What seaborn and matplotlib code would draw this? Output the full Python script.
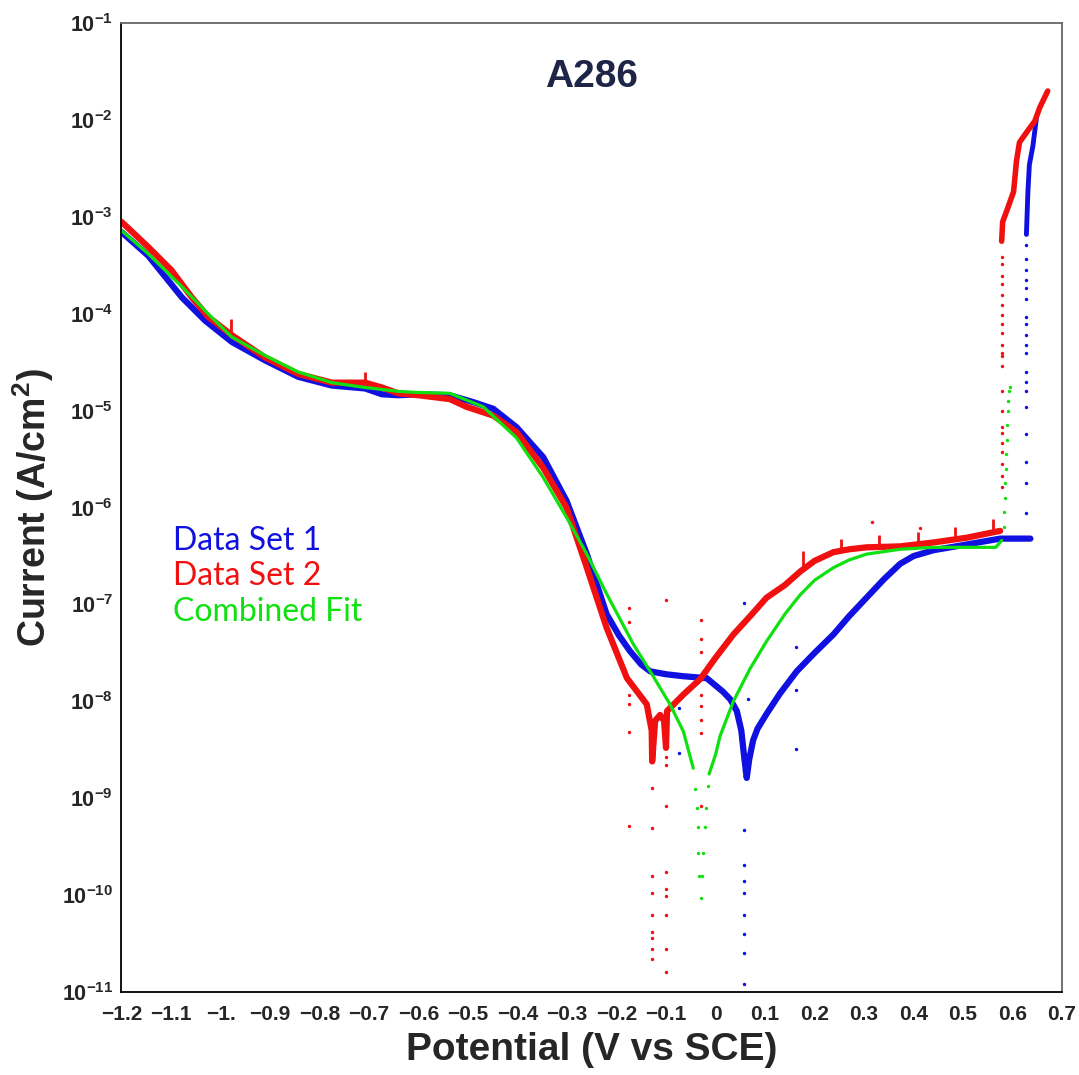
import numpy as np
import pandas as pd
import matplotlib
matplotlib.use("Agg")
import matplotlib.pyplot as plt
import seaborn as sns

# potential (V vs SCE) and log10 current (A/cm2)
ds1_v = [-1.2, -1.146, -1.078, -1.031, -0.977, -0.910, -0.843, -0.775, -0.708, -0.674, -0.641, -0.6,
         -0.537, -0.49, -0.449, -0.402, -0.348, -0.301, -0.260, -0.220, -0.195, -0.173, -0.15, -0.132,
         -0.1, -0.066, -0.018, 0.015, 0.03, 0.043, 0.052, 0.058, 0.063, 0.068, 0.076, 0.085, 0.103,
         0.13, 0.164, 0.2, 0.238, 0.27, 0.305, 0.34, 0.373, 0.40, 0.44, 0.508, 0.575, 0.636]
ds1_log = [-3.155, -3.40, -3.83, -4.07, -4.29, -4.48, -4.65, -4.74, -4.77, -4.83, -4.84, -4.83,
           -4.84, -4.91, -4.98, -5.17, -5.48, -5.93, -6.48, -7.10, -7.32, -7.48, -7.62, -7.69,
           -7.72, -7.74, -7.76, -7.90, -7.98, -8.10, -8.30, -8.58, -8.79, -8.60, -8.40, -8.28, -8.13,
           -7.92, -7.69, -7.50, -7.31, -7.12, -6.93, -6.74, -6.58, -6.50, -6.44, -6.38, -6.32, -6.32]
ds1_top_v = [0.628, 0.631, 0.634, 0.641, 0.648]
ds1_top_log = [-3.18, -2.74, -2.46, -2.27, -1.99]
ds1_dots_v = [0.627] * 19 + [0.058] * 10 + [0.162, 0.162, 0.162, 0.065, -0.073, -0.073]
ds1_dots_log = [-6.06, -5.75, -5.53, -5.24, -4.96, -4.80, -4.70, -4.60, -4.40, -4.32, -4.22, -4.10,
                -4.03, -3.85, -3.73, -3.65, -3.55, -3.43, -3.29,
                -6.98, -8.72, -9.33, -9.69, -9.85, -9.98, -10.2, -10.4, -10.6, -10.92,
                -7.44, -7.88, -8.49, -7.98, -8.07, -8.53]

ds2_v = [-1.2, -1.146, -1.099, -1.058, -1.025, -0.977, -0.910, -0.843, -0.775, -0.708, -0.674, -0.641,
         -0.6, -0.537, -0.503, -0.449, -0.402, -0.348, -0.301, -0.260, -0.220, -0.179, -0.139, -0.129,
         -0.128, -0.122, -0.112, -0.104, -0.100, -0.098, -0.065, -0.031, 0.0, 0.036, 0.07, 0.103, 0.14,
         0.171, 0.2, 0.238, 0.27, 0.305, 0.373, 0.44, 0.508, 0.575]
ds2_log = [-3.05, -3.31, -3.55, -3.83, -4.03, -4.22, -4.45, -4.62, -4.71, -4.71, -4.76, -4.82,
           -4.84, -4.88, -4.96, -5.05, -5.22, -5.59, -6.0, -6.62, -7.24, -7.76, -8.03, -8.30,
           -8.62, -8.20, -8.14, -8.20, -8.48, -8.10, -7.93, -7.77, -7.55, -7.31, -7.12, -6.93, -6.80,
           -6.66, -6.55, -6.46, -6.43, -6.41, -6.40, -6.36, -6.31, -6.24]
ds2_top_v = [0.578, 0.580, 0.588, 0.602, 0.608, 0.614, 0.632, 0.645, 0.655, 0.671]
ds2_top_log = [-3.25, -3.05, -2.94, -2.74, -2.42, -2.23, -2.10, -2.01, -1.87, -1.70]
ds2_spike_v = [-0.979, -0.708, 0.177, 0.254, 0.331, 0.408, 0.484, 0.560]
ds2_spike_base = [-4.22, -4.71, -6.64, -6.46, -6.42, -6.40, -6.34, -6.27]
ds2_spike_top = [-4.05, -4.60, -6.45, -6.32, -6.28, -6.25, -6.20, -6.12]
ds2_dots_v = [0.579] * 22 + [-0.175] * 6 + [-0.128] * 9 + [-0.100] * 10 + [-0.029] * 8 + [0.317, 0.413]
ds2_dots_log = [-5.79, -5.67, -5.55, -5.43, -5.33, -5.23, -5.17, -5.00, -4.80, -4.54, -4.44, -4.40,
                -4.32, -4.20, -4.10, -4.01, -3.91, -3.81, -3.69, -3.61, -3.49, -3.41,
                -7.04, -7.18, -7.93, -8.03, -8.32, -9.29,
                -8.89, -9.31, -9.80, -9.98, -10.20, -10.38, -10.44, -10.56, -10.66,
                -6.95, -8.57, -8.66, -9.08, -9.76, -9.94, -10.01, -10.20, -10.56, -10.79,
                -7.16, -7.36, -7.49, -7.93, -8.05, -8.19, -8.33, -9.08,
                -6.15, -6.21]

fit_left_v = [-1.2, -1.146, -1.078, -1.025, -0.977, -0.910, -0.843, -0.775, -0.708, -0.641, -0.607,
              -0.537, -0.469, -0.402, -0.348, -0.301, -0.260, -0.220, -0.166, -0.132, -0.092, -0.065,
              -0.045]
fit_left_log = [-3.14, -3.38, -3.72, -4.0, -4.24, -4.43, -4.60, -4.71, -4.76, -4.80, -4.81,
                -4.82, -4.96, -5.28, -5.69, -6.10, -6.48, -6.89, -7.41, -7.69, -8.03, -8.31,
                -8.69]
fit_right_v = [-0.013, 0.0, 0.009, 0.036, 0.07, 0.103, 0.14, 0.171, 0.2, 0.238, 0.27, 0.305, 0.373,
               0.44, 0.508, 0.566, 0.578]
fit_right_log = [-8.75, -8.55, -8.36, -8.0, -7.66, -7.38, -7.10, -6.90, -6.75, -6.62, -6.54, -6.48,
                 -6.43, -6.41, -6.41, -6.41, -6.34]
fit_dots_v = [-0.041, -0.038, -0.036, -0.035, -0.033, -0.030, -0.027, -0.025, -0.022, -0.019, -0.015,
              0.582, 0.583, 0.584, 0.585, 0.586, 0.587, 0.588, 0.589, 0.590, 0.591, 0.592, 0.594]
fit_dots_log = [-8.9, -9.1, -9.3, -9.56, -9.8, -10.03, -9.8, -9.56, -9.3, -9.1, -8.87,
                -6.2, -6.05, -5.9, -5.75, -5.6, -5.45, -5.3, -5.15, -5.0, -4.9, -4.8, -4.75]

x_ticks = [-1.2, -1.1, -1.0, -0.9, -0.8, -0.7, -0.6, -0.5, -0.4, -0.3, -0.2, -0.1, 0, 0.1, 0.2, 0.3, 0.4, 0.5, 0.6, 0.7]
x_labels = ["\u22121.2", "\u22121.1", "\u22121.", "\u22120.9", "\u22120.8", "\u22120.7", "\u22120.6", "\u22120.5",
            "\u22120.4", "\u22120.3", "\u22120.2", "\u22120.1", "0", "0.1", "0.2", "0.3", "0.4", "0.5", "0.6", "0.7"]
y_exps = list(range(-11, 0))

BLUE = "#1010e0"
RED = "#f01010"
GREEN = "#10e010"


def cur(logs):
    return 10.0 ** np.array(logs)


sns.set_style("white")
plt.rcParams["font.family"] = ["Liberation Sans", "DejaVu Sans"]
plt.rcParams["mathtext.fontset"] = "custom"
plt.rcParams["mathtext.rm"] = "Liberation Sans"
plt.rcParams["mathtext.bf"] = "Liberation Sans:bold"

fig = plt.figure(figsize=(10.79, 10.75), dpi=100)
ax = fig.add_axes([0.1126, 0.0772, 0.8717, 0.9012])

# data set 1
sns.lineplot(x=ds1_v, y=cur(ds1_log), sort=False, estimator=None, color=BLUE, lw=4.5, ax=ax)
sns.lineplot(x=ds1_top_v, y=cur(ds1_top_log), sort=False, estimator=None, color=BLUE, lw=3.5, ax=ax)
sns.scatterplot(x=ds1_dots_v, y=cur(ds1_dots_log), color=BLUE, s=6, linewidth=0, ax=ax)

# data set 2
sns.lineplot(x=ds2_v, y=cur(ds2_log), sort=False, estimator=None, color=RED, lw=4.5, ax=ax)
sns.lineplot(x=ds2_top_v, y=cur(ds2_top_log), sort=False, estimator=None, color=RED, lw=4, ax=ax)
ax.vlines(ds2_spike_v, cur(ds2_spike_base), cur(ds2_spike_top), color=RED, lw=2)
sns.scatterplot(x=ds2_dots_v, y=cur(ds2_dots_log), color=RED, s=6, linewidth=0, ax=ax)

# combined fit
sns.lineplot(x=fit_left_v, y=cur(fit_left_log), sort=False, estimator=None, color=GREEN, lw=2.3, ax=ax)
sns.lineplot(x=fit_right_v, y=cur(fit_right_log), sort=False, estimator=None, color=GREEN, lw=2.3, ax=ax)
sns.scatterplot(x=fit_dots_v, y=cur(fit_dots_log), color=GREEN, s=6, linewidth=0, ax=ax)

ax.set_yscale("log")
ax.set_xlim(-1.2, 0.7)
ax.set_ylim(1e-11, 1e-1)
ax.set_xticks(x_ticks)
ax.set_xticklabels(x_labels, fontsize=15, fontweight="bold")
ax.set_yticks([10.0 ** e for e in y_exps])
ax.set_yticklabels([r"$\mathbf{10^{%d}}$" % e for e in y_exps], fontsize=15.5)
ax.yaxis.set_minor_locator(matplotlib.ticker.NullLocator())
ax.tick_params(direction="in", length=6, width=1, color="#555555", top=False, right=False)
ax.tick_params(axis="x", pad=9)
ax.tick_params(axis="y", pad=6)
for side in ["left", "bottom"]:
    ax.spines[side].set_color("black")
    ax.spines[side].set_linewidth(1.3)
for side in ["top", "right"]:
    ax.spines[side].set_color("#666666")
    ax.spines[side].set_linewidth(1.3)

ax.set_xlabel("Potential (V vs SCE)", fontsize=28, fontweight="bold", labelpad=6)
ax.set_ylabel(r"Current (A/cm$^\mathbf{2}$)", fontsize=27, fontweight="bold", labelpad=4)
ax.text(0.5, 0.945, "A286", transform=ax.transAxes, ha="center", va="center",
        fontsize=28, fontweight="bold", color="#1f2547")

legend_items = [("Data Set 1", BLUE), ("Data Set 2", RED), ("Combined Fit", GREEN)]
for i, (lab, col) in enumerate(legend_items):
    ax.text(0.055, 0.466 - i * 0.037, lab, transform=ax.transAxes, ha="left", va="center",
            fontsize=23, color=col, family=["Lato", "DejaVu Sans"])

fig.savefig("out.png", dpi=100)
